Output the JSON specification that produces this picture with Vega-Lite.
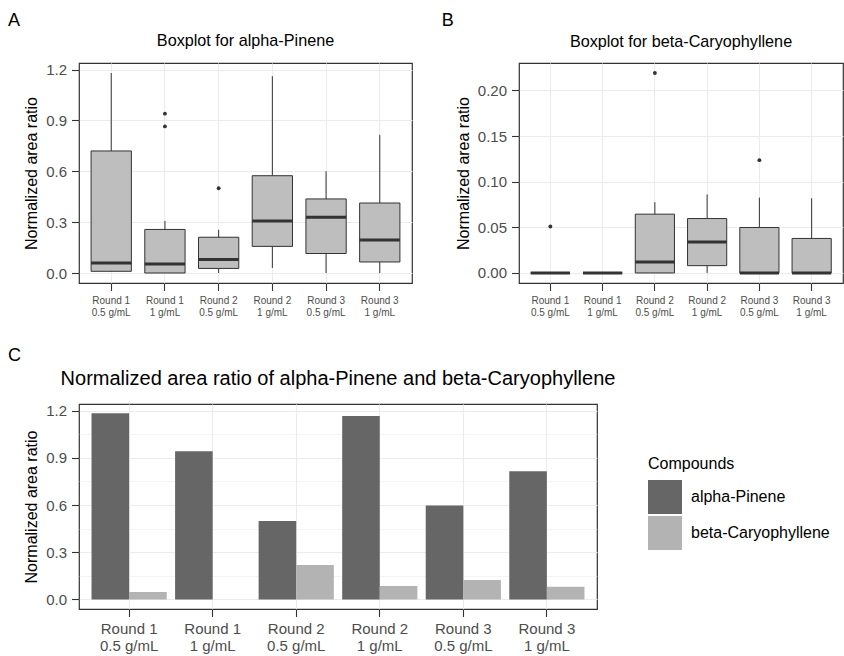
{
  "$schema": "https://vega.github.io/schema/vega-lite/v6.json",
  "padding": {"left": 8, "top": 11, "right": 0, "bottom": 0},
  "config": {
    "font": "Liberation Sans",
    "view": {"stroke": "#333333", "strokeWidth": 1.2},
    "axis": {
      "domain": false,
      "tickColor": "#333333",
      "tickSize": 7.5,
      "tickWidth": 1.1,
      "labelColor": "#4D4D4D",
      "labelPadding": 5,
      "titleFontWeight": "normal",
      "titleColor": "#000000",
      "titleFontSize": 16,
      "gridColor": "#EBEBEB",
      "gridWidth": 1.1,
      "labelOverlap": false,
      "labelFlush": false
    },
    "title": {"fontWeight": "normal", "color": "#000000"}
  },
  "resolve": {"scale": {"fill": "independent"}, "legend": {"fill": "independent"}},
  "datasets": {
    "boxA": [
      {"cat": "Round 1\n0.5 g/mL", "lo": 0.01, "q1": 0.01, "med": 0.059, "q3": 0.72, "hi": 1.18},
      {"cat": "Round 1\n1 g/mL", "lo": 0.0, "q1": 0.0, "med": 0.053, "q3": 0.257, "hi": 0.307},
      {"cat": "Round 2\n0.5 g/mL", "lo": 0.0, "q1": 0.027, "med": 0.08, "q3": 0.211, "hi": 0.255},
      {"cat": "Round 2\n1 g/mL", "lo": 0.03, "q1": 0.157, "med": 0.307, "q3": 0.574, "hi": 1.161},
      {"cat": "Round 3\n0.5 g/mL", "lo": 0.0, "q1": 0.115, "med": 0.329, "q3": 0.437, "hi": 0.6},
      {"cat": "Round 3\n1 g/mL", "lo": 0.0, "q1": 0.065, "med": 0.194, "q3": 0.413, "hi": 0.815}
    ],
    "outA": [
      {"cat": "Round 1\n1 g/mL", "v": 0.94},
      {"cat": "Round 1\n1 g/mL", "v": 0.865},
      {"cat": "Round 2\n0.5 g/mL", "v": 0.5}
    ],
    "boxB": [
      {"cat": "Round 1\n0.5 g/mL", "lo": 0.0, "q1": 0.0, "med": 0.0, "q3": 0.0, "hi": 0.0},
      {"cat": "Round 1\n1 g/mL", "lo": 0.0, "q1": 0.0, "med": 0.0, "q3": 0.0, "hi": 0.0},
      {"cat": "Round 2\n0.5 g/mL", "lo": 0.0, "q1": 0.0, "med": 0.012, "q3": 0.0644, "hi": 0.0775},
      {"cat": "Round 2\n1 g/mL", "lo": 0.0, "q1": 0.008, "med": 0.034, "q3": 0.0596, "hi": 0.086},
      {"cat": "Round 3\n0.5 g/mL", "lo": 0.0, "q1": 0.0, "med": 0.0, "q3": 0.0498, "hi": 0.0825},
      {"cat": "Round 3\n1 g/mL", "lo": 0.0, "q1": 0.0, "med": 0.0, "q3": 0.0378, "hi": 0.0818}
    ],
    "outB": [
      {"cat": "Round 1\n0.5 g/mL", "v": 0.0509},
      {"cat": "Round 2\n0.5 g/mL", "v": 0.219},
      {"cat": "Round 3\n0.5 g/mL", "v": 0.1236}
    ],
    "bars": [
      {"cat": "Round 1\n0.5 g/mL", "compound": "alpha-Pinene", "value": 1.183},
      {"cat": "Round 1\n0.5 g/mL", "compound": "beta-Caryophyllene", "value": 0.047},
      {"cat": "Round 1\n1 g/mL", "compound": "alpha-Pinene", "value": 0.942},
      {"cat": "Round 1\n1 g/mL", "compound": "beta-Caryophyllene", "value": 0.0},
      {"cat": "Round 2\n0.5 g/mL", "compound": "alpha-Pinene", "value": 0.499},
      {"cat": "Round 2\n0.5 g/mL", "compound": "beta-Caryophyllene", "value": 0.218},
      {"cat": "Round 2\n1 g/mL", "compound": "alpha-Pinene", "value": 1.166},
      {"cat": "Round 2\n1 g/mL", "compound": "beta-Caryophyllene", "value": 0.085},
      {"cat": "Round 3\n0.5 g/mL", "compound": "alpha-Pinene", "value": 0.597},
      {"cat": "Round 3\n0.5 g/mL", "compound": "beta-Caryophyllene", "value": 0.123},
      {"cat": "Round 3\n1 g/mL", "compound": "alpha-Pinene", "value": 0.815},
      {"cat": "Round 3\n1 g/mL", "compound": "beta-Caryophyllene", "value": 0.08}
    ]
  },
  "vconcat": [
    {
      "hconcat": [
        {
          "title": {"text": "A", "anchor": "start", "fontSize": 18, "dx": -15, "offset": 3},
          "vconcat": [
            {
              "title": {"text": "Boxplot for alpha-Pinene", "fontSize": 16.2, "offset": 13},
              "width": 333,
              "height": 220,
              "data": {"name": "boxA"},
              "layer": [
                {
                  "mark": {"type": "rule", "color": "#333333", "strokeWidth": 1},
                  "encoding": {
                    "x": {"field": "cat", "type": "nominal", "title": null,
                      "scale": {"paddingInner": 0, "paddingOuter": 0.1},
                      "axis": {"labelExpr": "split(datum.label, '\\n')", "labelAngle": 0, "labelFontSize": 10, "labelLineHeight": 11.7, "bandPosition": 0.5, "grid": true, "labelPadding": 5}},
                    "y": {"field": "lo", "type": "quantitative", "title": "Normalized area ratio",
                      "scale": {"domain": [-0.059, 1.239], "nice": false, "zero": false},
                      "axis": {"values": [0, 0.15, 0.3, 0.45, 0.6, 0.75, 0.9, 1.05, 1.2], "format": ".1f",
                        "labelExpr": "abs(datum.value*10/3 - round(datum.value*10/3)) < 0.001 ? datum.label : ''",
                        "tickSize": {"condition": {"test": "abs(datum.value*10/3 - round(datum.value*10/3)) < 0.001", "value": 7.5}, "value": 0},
                        "gridWidth": {"condition": {"test": "abs(datum.value*10/3 - round(datum.value*10/3)) < 0.001", "value": 1.1}, "value": 0.55},
                        "labelFontSize": 15, "titlePadding": 6}},
                    "y2": {"field": "hi"}
                  }
                },
                {
                  "mark": {"type": "bar", "fill": "#BEBEBE", "stroke": "#333333", "strokeWidth": 1, "width": {"band": 0.75}},
                  "encoding": {
                    "x": {"field": "cat", "type": "nominal", "title": null},
                    "y": {"field": "q1", "type": "quantitative", "title": "Normalized area ratio"},
                    "y2": {"field": "q3"}
                  }
                },
                {
                  "mark": {"type": "bar", "fill": "#333333", "stroke": "#333333", "strokeWidth": 3, "width": {"band": 0.75}},
                  "encoding": {
                    "x": {"field": "cat", "type": "nominal", "title": null},
                    "y": {"field": "med", "type": "quantitative", "title": "Normalized area ratio"},
                    "y2": {"field": "med"}
                  }
                },
                {
                  "data": {"name": "outA"},
                  "mark": {"type": "point", "shape": "circle", "filled": true, "color": "#333333", "size": 15, "opacity": 1},
                  "encoding": {
                    "x": {"field": "cat", "type": "nominal", "title": null},
                    "y": {"field": "v", "type": "quantitative", "title": "Normalized area ratio"}
                  }
                }
              ]
            }
          ]
        },
        {
          "title": {"text": "B", "anchor": "start", "fontSize": 18, "dx": -13, "offset": 3},
          "vconcat": [
            {
              "title": {"text": "Boxplot for beta-Caryophyllene", "fontSize": 16.2, "offset": 13},
              "width": 324,
              "height": 220,
              "data": {"name": "boxB"},
              "layer": [
                {
                  "mark": {"type": "rule", "color": "#333333", "strokeWidth": 1},
                  "encoding": {
                    "x": {"field": "cat", "type": "nominal", "title": null,
                      "scale": {"paddingInner": 0, "paddingOuter": 0.1},
                      "axis": {"labelExpr": "split(datum.label, '\\n')", "labelAngle": 0, "labelFontSize": 10, "labelLineHeight": 11.7, "bandPosition": 0.5, "grid": true, "labelPadding": 5}},
                    "y": {"field": "lo", "type": "quantitative", "title": "Normalized area ratio",
                      "scale": {"domain": [-0.011, 0.23], "nice": false, "zero": false},
                      "axis": {"values": [0, 0.025, 0.05, 0.075, 0.1, 0.125, 0.15, 0.175, 0.2, 0.225], "format": ".2f",
                        "labelExpr": "abs(datum.value*20 - round(datum.value*20)) < 0.001 ? datum.label : ''",
                        "tickSize": {"condition": {"test": "abs(datum.value*20 - round(datum.value*20)) < 0.001", "value": 7.5}, "value": 0},
                        "gridWidth": {"condition": {"test": "abs(datum.value*20 - round(datum.value*20)) < 0.001", "value": 1.1}, "value": 0.55},
                        "labelFontSize": 15, "titlePadding": 6}},
                    "y2": {"field": "hi"}
                  }
                },
                {
                  "mark": {"type": "bar", "fill": "#BEBEBE", "stroke": "#333333", "strokeWidth": 1, "width": {"band": 0.75}},
                  "encoding": {
                    "x": {"field": "cat", "type": "nominal", "title": null},
                    "y": {"field": "q1", "type": "quantitative", "title": "Normalized area ratio"},
                    "y2": {"field": "q3"}
                  }
                },
                {
                  "mark": {"type": "bar", "fill": "#333333", "stroke": "#333333", "strokeWidth": 3, "width": {"band": 0.75}},
                  "encoding": {
                    "x": {"field": "cat", "type": "nominal", "title": null},
                    "y": {"field": "med", "type": "quantitative", "title": "Normalized area ratio"},
                    "y2": {"field": "med"}
                  }
                },
                {
                  "data": {"name": "outB"},
                  "mark": {"type": "point", "shape": "circle", "filled": true, "color": "#333333", "size": 15, "opacity": 1},
                  "encoding": {
                    "x": {"field": "cat", "type": "nominal", "title": null},
                    "y": {"field": "v", "type": "quantitative", "title": "Normalized area ratio"}
                  }
                }
              ]
            }
          ]
        }
      ],
      "spacing": 28
    },
    {
      "title": {"text": "C", "anchor": "start", "fontSize": 18, "dx": -15, "offset": 3},
      "resolve": {"scale": {"fill": "independent"}, "legend": {"fill": "independent"}},
      "vconcat": [
        {
          "title": {"text": "Normalized area ratio of alpha-Pinene and beta-Caryophyllene", "fontSize": 20, "offset": 15},
          "width": 518,
          "height": 205,
          "data": {"name": "bars"},
          "mark": {"type": "bar"},
          "encoding": {
            "x": {"field": "cat", "type": "nominal", "title": null,
              "scale": {"paddingInner": 0.1, "paddingOuter": 0.15},
              "axis": {"labelExpr": "split(datum.label, '\\n')", "labelAngle": 0, "labelFontSize": 15, "labelLineHeight": 17, "bandPosition": 0.5, "grid": true, "labelPadding": 5}},
            "xOffset": {"field": "compound", "type": "nominal", "scale": {"paddingInner": 0, "paddingOuter": 0}},
            "y": {"field": "value", "type": "quantitative", "title": "Normalized area ratio",
              "scale": {"domain": [-0.061, 1.242], "nice": false, "zero": false},
              "axis": {"values": [0, 0.15, 0.3, 0.45, 0.6, 0.75, 0.9, 1.05, 1.2], "format": ".1f",
                "labelExpr": "abs(datum.value*10/3 - round(datum.value*10/3)) < 0.001 ? datum.label : ''",
                "tickSize": {"condition": {"test": "abs(datum.value*10/3 - round(datum.value*10/3)) < 0.001", "value": 7.5}, "value": 0},
                "gridWidth": {"condition": {"test": "abs(datum.value*10/3 - round(datum.value*10/3)) < 0.001", "value": 1.1}, "value": 0.55},
                "labelFontSize": 15, "titlePadding": 6}},
            "fill": {"field": "compound", "type": "nominal", "title": "Compounds",
              "scale": {"range": ["#666666", "#B3B3B3"]},
              "legend": {"orient": "none", "legendX": 569, "legendY": 52, "symbolType": "square", "symbolSize": 1156, "symbolStrokeWidth": 0, "symbolOpacity": 1,
                "titleFontSize": 16, "titleFontWeight": "normal", "titleColor": "#000000", "titlePadding": 8,
                "labelFontSize": 16, "labelColor": "#000000", "labelOffset": 9, "rowPadding": 2}}
          }
        }
      ]
    }
  ],
  "spacing": 29
}
